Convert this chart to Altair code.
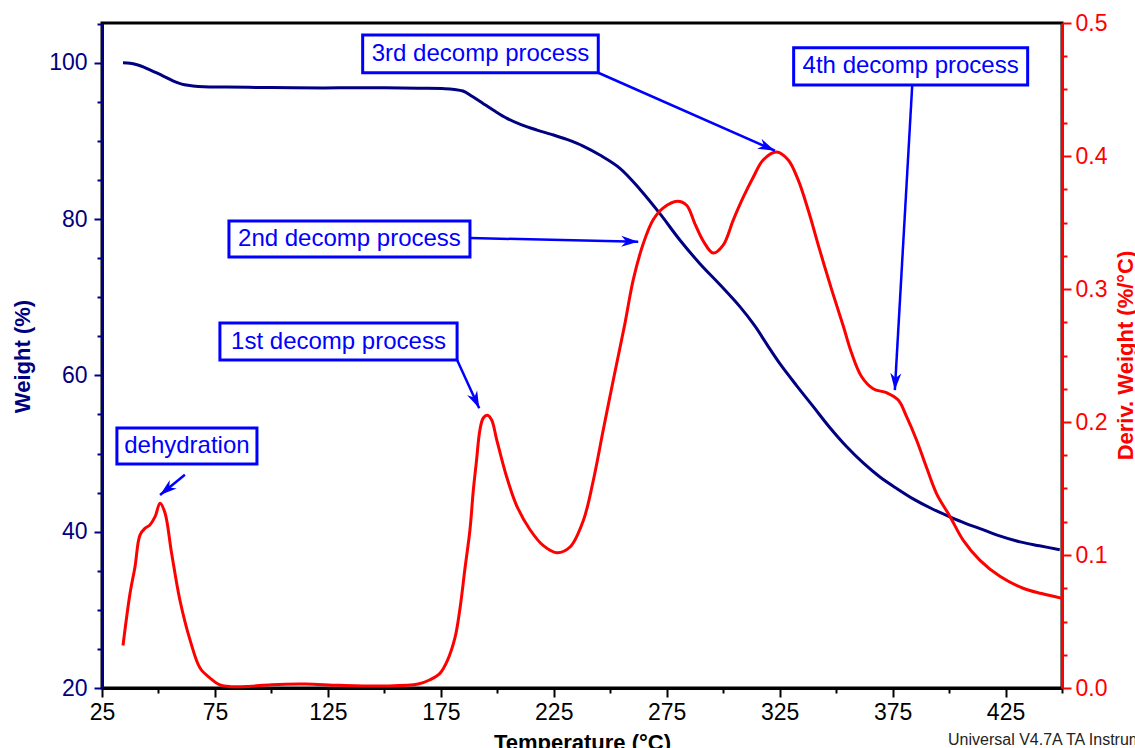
import math
import pandas as pd
import altair as alt

# ---- TGA weight-loss curve (Weight %, left axis) ----
temp_w = [34.3, 37.4, 40.5, 43.5, 46.2, 49.0, 51.5, 54.0, 56.4, 59.0, 61.5, 65.3,
          70, 80, 95, 110, 130, 150, 165, 176.8, 181, 184.8, 189, 193.7, 198.5,
          204.3, 210.5, 217.6, 224, 230.8, 238, 245.4, 254.3, 263.2, 272, 280.9,
          289.7, 298.6, 307.4, 314.1, 319.5, 325.1, 332.5, 339.9, 347, 354.6, 362,
          369.4, 377, 384.1, 392, 400.4, 407, 413.7, 422, 431.4, 440, 449]
weight = [100.0, 99.95, 99.75, 99.45, 99.1, 98.75, 98.4, 98.05, 97.7, 97.4, 97.2, 97.05,
          96.95, 96.9, 96.85, 96.8, 96.8, 96.8, 96.75, 96.7, 96.6, 96.4, 95.7, 94.8, 93.9,
          92.9, 92.1, 91.4, 90.85, 90.2, 89.35, 88.2, 86.5, 83.8, 80.7, 77.3,
          74.3, 71.6, 68.8, 66.3, 63.9, 61.5, 58.7, 56.0, 53.4, 50.9, 48.8,
          47.0, 45.5, 44.2, 43.0, 41.9, 41.1, 40.4, 39.5, 38.7, 38.2, 37.7]

# ---- DTG curve (Deriv. Weight %/°C, right axis) ----
temp_d = [34.3, 37.4, 39.6, 41.8, 44.0, 46.2, 48.5, 50.7, 52.9, 55.8, 59.5, 64.0,
          68.4, 72.8, 77.2, 82, 90, 100, 115, 130, 150, 165, 170, 174.6, 178, 181.3,
          183.5, 185.7, 187.9, 189.4, 190.8, 192.3, 193.8, 195.6, 197.5, 199.7, 204.1,
          208.6, 214.5, 220.4, 226.3, 232.2, 238.1, 242.5, 246.9, 251.4, 256.5, 260.2,
          264.6, 269, 273.5, 279.7, 283.8, 287.5, 291.2, 295.6, 300, 304.5, 308.9,
          313.3, 317.7, 323.6, 328.8, 333.2, 337.7, 342.8, 348.3, 353.2, 356.8, 361.3,
          366.4, 372.3, 377.5, 381.2, 385.6, 390, 394.5, 400.4, 406.3, 413.7, 422.5,
          432.8, 441, 450]
deriv = [0.032, 0.071, 0.091, 0.115, 0.120, 0.1226, 0.1288, 0.139, 0.1316, 0.1015, 0.066, 0.036,
         0.015, 0.0075, 0.0023, 0.001, 0.0012, 0.0025, 0.003, 0.002, 0.0015, 0.003, 0.006, 0.011, 0.021, 0.038,
         0.060, 0.090, 0.119, 0.149, 0.171, 0.194, 0.203, 0.205, 0.2015, 0.187, 0.159,
         0.137, 0.119, 0.107, 0.1017, 0.106, 0.126, 0.156, 0.194, 0.232, 0.274, 0.307,
         0.334, 0.352, 0.361, 0.366, 0.363, 0.349, 0.336, 0.327, 0.333, 0.352, 0.369,
         0.384, 0.397, 0.403, 0.397, 0.382, 0.359, 0.329, 0.298, 0.272, 0.252, 0.234,
         0.225, 0.222, 0.2165, 0.204, 0.1865, 0.166, 0.146, 0.129, 0.111, 0.096, 0.084,
         0.075, 0.071, 0.0674]

# ---- Callouts (positions in temperature / deriv-weight units) ----
callout_text = ["dehydration", "1st decomp process", "2nd decomp process",
                "3rd decomp process", "4th decomp process"]
box_t0 = [31.6, 77.2, 81.2, 140.4, 331.2]
box_t1 = [93.6, 182.2, 187.9, 244.7, 434.8]
box_d0 = [0.1684, 0.2466, 0.3241, 0.4626, 0.4534]
box_d1 = [0.1955, 0.2744, 0.3511, 0.4910, 0.4814]
arrow_t0 = [61.7, 182.2, 187.9, 244.7, 383.7]
arrow_d0 = [0.1604, 0.2466, 0.3383, 0.4626, 0.4534]
arrow_t1 = [50.7, 192.0, 262.4, 322.9, 376.0]
arrow_d1 = [0.1451, 0.2103, 0.3356, 0.4040, 0.2240]

WATERMARK = "Universal V4.7A TA Instruments"

# ---- layout ----
W, H = 960, 665
T_DOMAIN = [25, 450]
W_DOMAIN = [20, 105.1]
D_DOMAIN = [0, 0.5]
NAVY, RED, BLUE = "#000080", "#FF0000", "#0000FF"
FONT = "Liberation Sans"

x_scale = alt.Scale(domain=T_DOMAIN, nice=False, zero=False)
w_scale = alt.Scale(domain=W_DOMAIN, nice=False, zero=False)
d_scale = alt.Scale(domain=D_DOMAIN, nice=False)

x_axis = alt.Axis(
    values=list(range(25, 451, 25)),
    labelExpr="datum.value % 50 === 25 ? datum.label : ''",
    tickSize={"condition": {"test": "datum.value % 50 === 25", "value": 9}, "value": 5},
    tickWidth=2, tickColor="black", domainColor="black", domainWidth=3,
    labelColor="black", labelFont=FONT, labelFontSize=23, labelPadding=4,
    labelFlush=False, labelOverlap=False, grid=False,
    title="Temperature (°C)", titleFont=FONT, titleFontSize=22, titleFontWeight="bold",
    titleColor="black", titleBaseline="alphabetic", titleY=61,
)
w_axis = alt.Axis(
    orient="left",
    values=list(range(20, 106, 5)),
    labelExpr="datum.value % 20 === 0 ? datum.label : ''",
    tickSize={"condition": {"test": "datum.value % 20 === 0", "value": 8}, "value": 5},
    tickWidth=2, tickColor=NAVY, domainColor=NAVY, domainWidth=3,
    labelColor=NAVY, labelFont=FONT, labelFontSize=23, labelPadding=7,
    labelFlush=False, labelOverlap=False, grid=False,
    title="Weight (%)", titleFont=FONT, titleFontSize=22, titleFontWeight="bold",
    titleColor=NAVY, titleAngle=270, titleBaseline="alphabetic", titleAlign="center",
    titleX=-73, titleY=333,
)
d_axis = alt.Axis(
    orient="right",
    values=[round(i * 0.025, 3) for i in range(21)],
    format=".1f",
    labelExpr="abs(datum.value * 10 - round(datum.value * 10)) < 1e-6 ? datum.label : ''",
    tickSize={"condition": {"test": "abs(datum.value * 10 - round(datum.value * 10)) < 1e-6",
                            "value": 9}, "value": 5},
    tickWidth=2, tickColor=RED, domainColor=RED, domainWidth=3,
    labelColor=RED, labelFont=FONT, labelFontSize=23, labelPadding=4,
    labelFlush=False, labelOverlap=False, grid=False,
    title="Deriv. Weight (%/°C)", titleFont=FONT, titleFontSize=22, titleFontWeight="bold",
    titleColor=RED, titleAngle=270, titleBaseline="alphabetic", titleAlign="center",
    titleX=70, titleY=332,
)

weight_df = pd.DataFrame({"t": temp_w, "v": weight})
deriv_df = pd.DataFrame({"t": temp_d, "v": deriv})

# arrow-head orientation in screen space
kx = W / (T_DOMAIN[1] - T_DOMAIN[0])
ky = H / (D_DOMAIN[1] - D_DOMAIN[0])
angles = []
for a0, b0, a1, b1 in zip(arrow_t0, arrow_d0, arrow_t1, arrow_d1):
    dx = (a1 - a0) * kx
    dy = -(b1 - b0) * ky
    angles.append(math.degrees(math.atan2(dx, -dy)) % 360)

callout_df = pd.DataFrame({
    "label": callout_text,
    "t0": box_t0, "t1": box_t1, "d0": box_d0, "d1": box_d1,
    "tm": [(a + b) / 2 for a, b in zip(box_t0, box_t1)],
    "dm": [(a + b) / 2 for a, b in zip(box_d0, box_d1)],
})
arrow_df = pd.DataFrame({
    "t0": arrow_t0, "d0": arrow_d0, "t1": arrow_t1, "d1": arrow_d1, "ang": angles,
})

weight_line = alt.Chart(weight_df).mark_line(
    color=NAVY, strokeWidth=3, interpolate="catmull-rom"
).encode(
    x=alt.X("t:Q", scale=x_scale, axis=x_axis),
    y=alt.Y("v:Q", scale=w_scale, axis=w_axis),
)

deriv_line = alt.Chart(deriv_df).mark_line(
    color=RED, strokeWidth=3, interpolate="catmull-rom"
).encode(
    x=alt.X("t:Q", scale=x_scale, axis=x_axis),
    y=alt.Y("v:Q", scale=d_scale, axis=d_axis),
)

arrow_lines = alt.Chart(arrow_df).mark_rule(color=BLUE, strokeWidth=2.5).encode(
    x=alt.X("t0:Q", scale=x_scale, axis=x_axis),
    x2="t1:Q",
    y=alt.Y("d0:Q", scale=d_scale, axis=d_axis),
    y2="d1:Q",
)

ARROW_HEAD = "M0,0 L-0.55,1.7 L0,1.2 L0.55,1.7 Z"
arrow_heads = alt.Chart(arrow_df).mark_point(
    shape=ARROW_HEAD, filled=True, color=BLUE, size=400, opacity=1, strokeWidth=0
).encode(
    x=alt.X("t1:Q", scale=x_scale, axis=x_axis),
    y=alt.Y("d1:Q", scale=d_scale, axis=d_axis),
    angle=alt.Angle("ang:Q", scale=None),
)

boxes = alt.Chart(callout_df).mark_rect(
    fill="white", stroke=BLUE, strokeWidth=3
).encode(
    x=alt.X("t0:Q", scale=x_scale, axis=x_axis),
    x2="t1:Q",
    y=alt.Y("d0:Q", scale=d_scale, axis=d_axis),
    y2="d1:Q",
)

box_text = alt.Chart(callout_df).mark_text(
    font=FONT, fontSize=24, color=BLUE, align="center", baseline="middle"
).encode(
    x=alt.X("tm:Q", scale=x_scale, axis=x_axis),
    y=alt.Y("dm:Q", scale=d_scale, axis=d_axis),
    text="label:N",
)

watermark = alt.Chart(pd.DataFrame({"s": [WATERMARK]})).mark_text(
    font=FONT, fontSize=16, color="#222222", align="left", baseline="alphabetic"
).encode(
    text="s:N",
    x=alt.value(846),
    y=alt.value(722),
)

right_side = alt.layer(deriv_line, arrow_lines, arrow_heads, boxes, box_text, watermark)

chart = alt.layer(weight_line, right_side).resolve_scale(
    y="independent"
).properties(
    width=W,
    height=H,
    padding={"left": 102, "top": 23, "right": 73, "bottom": 60},
    autosize=alt.AutoSizeParams(type="none"),
    background="white",
).configure_view(
    stroke="black", strokeWidth=3
)

chart.save("out.html", embed_options={"renderer": "svg", "actions": False})
